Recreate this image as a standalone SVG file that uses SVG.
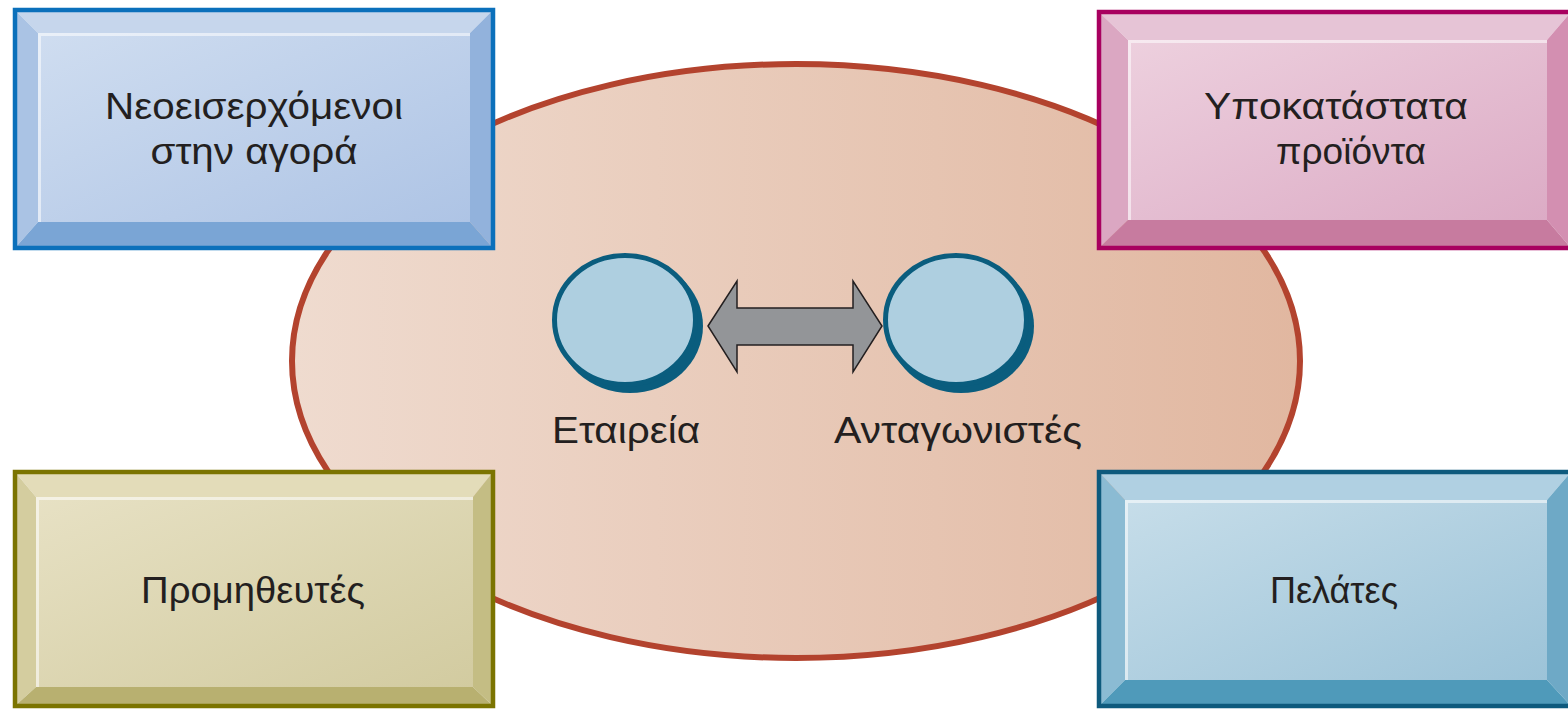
<svg xmlns="http://www.w3.org/2000/svg" width="1568" height="710" viewBox="0 0 1568 710">
  <style>
    .lbl { font-family: "Liberation Sans", Arial, sans-serif; font-size: 37px; fill: #231f20; text-anchor: middle; }
    .border { fill: none; stroke-width: 4.5; }
    .hl { fill: none; stroke: #ffffff; stroke-opacity: 0.55; stroke-width: 3; }
    .disc { stroke: #0a5d7e; stroke-width: 5; fill: #aecfe0; }
    .disc-shadow { fill: #0a5d7e; }
  </style>
  <defs>
    <linearGradient id="market" x1="0" y1="0" x2="1" y2="0">
      <stop offset="0" stop-color="#efdbcf"/>
      <stop offset="1" stop-color="#e1b7a0"/>
    </linearGradient>
    <linearGradient id="faceBlue" x1="0" y1="0" x2="1" y2="1">
      <stop offset="0" stop-color="#cfddf0"/>
      <stop offset="1" stop-color="#aec4e5"/>
    </linearGradient>
    <linearGradient id="facePink" x1="0" y1="0" x2="1" y2="1">
      <stop offset="0" stop-color="#edd0de"/>
      <stop offset="1" stop-color="#dcabc5"/>
    </linearGradient>
    <linearGradient id="faceOlive" x1="0" y1="0" x2="1" y2="1">
      <stop offset="0" stop-color="#e7e1c4"/>
      <stop offset="1" stop-color="#d2cba0"/>
    </linearGradient>
    <linearGradient id="faceTeal" x1="0" y1="0" x2="1" y2="1">
      <stop offset="0" stop-color="#c6dde9"/>
      <stop offset="1" stop-color="#9cc3d8"/>
    </linearGradient>
  </defs>

  <rect width="1568" height="710" fill="#ffffff"/>

  <!-- market arena -->
  <g id="market-arena">
    <ellipse cx="796" cy="361" rx="504" ry="297" fill="url(#market)" stroke="#b3432e" stroke-width="6"/>
  </g>

  <!-- new entrants -->
  <g id="new-entrants">
    <polygon points="15,10 493,10 470,33 38,33" fill="#c6d6ec"/>
    <polygon points="15,10 38,33 38,222 15,248" fill="#aac3e4"/>
    <polygon points="493,10 493,248 470,222 470,33" fill="#92b2dc"/>
    <polygon points="15,248 38,222 470,222 493,248" fill="#7aa5d5"/>
    <rect x="38" y="33" width="432" height="189" fill="url(#faceBlue)"/>
    <polyline class="hl" points="39.5,222 39.5,34.5 470,34.5"/>
    <rect class="border" x="15" y="10" width="478" height="238" stroke="#0b70bb"/>
    <text class="lbl" x="254" y="119" textLength="298" lengthAdjust="spacingAndGlyphs">Νεοεισερχόμενοι</text>
    <text class="lbl" x="254" y="164" textLength="207" lengthAdjust="spacingAndGlyphs">στην αγορά</text>
  </g>

  <!-- substitute products -->
  <g id="substitutes">
    <polygon points="1099,12 1571,12 1547,40 1128,40" fill="#e6c4d6"/>
    <polygon points="1099,12 1128,40 1128,220 1099,248" fill="#dba7c2"/>
    <polygon points="1571,12 1571,248 1547,220 1547,40" fill="#d38fb1"/>
    <polygon points="1099,248 1128,220 1547,220 1571,248" fill="#c77b9f"/>
    <rect x="1128" y="40" width="419" height="180" fill="url(#facePink)"/>
    <polyline class="hl" points="1129.5,220 1129.5,41.5 1547,41.5"/>
    <rect class="border" x="1099" y="12" width="472" height="236" stroke="#a8005f"/>
    <text class="lbl" x="1336" y="119" textLength="264" lengthAdjust="spacingAndGlyphs">Υποκατάστατα</text>
    <text class="lbl" x="1351" y="164">προϊόντα</text>
  </g>

  <!-- suppliers -->
  <g id="suppliers">
    <polygon points="15,472 493,472 473,497 36,497" fill="#e3dcb9"/>
    <polygon points="15,472 36,497 36,687 15,706" fill="#d4cd9f"/>
    <polygon points="493,472 493,706 473,687 473,497" fill="#c4bd84"/>
    <polygon points="15,706 36,687 473,687 493,706" fill="#b8b070"/>
    <rect x="36" y="497" width="437" height="190" fill="url(#faceOlive)"/>
    <polyline class="hl" points="37.5,687 37.5,498.5 473,498.5"/>
    <rect class="border" x="15" y="472" width="478" height="234" stroke="#7b7400"/>
    <text class="lbl" x="253" y="603" textLength="224" lengthAdjust="spacingAndGlyphs">Προμηθευτές</text>
  </g>

  <!-- customers -->
  <g id="customers">
    <polygon points="1099,472 1571,472 1547,500 1125,500" fill="#b0d0e2"/>
    <polygon points="1099,472 1125,500 1125,680 1099,706" fill="#8bbbd3"/>
    <polygon points="1571,472 1571,706 1547,680 1547,500" fill="#6ea9c6"/>
    <polygon points="1099,706 1125,680 1547,680 1571,706" fill="#4f9aba"/>
    <rect x="1125" y="500" width="422" height="180" fill="url(#faceTeal)"/>
    <polyline class="hl" points="1126.5,680 1126.5,501.5 1547,501.5"/>
    <rect class="border" x="1099" y="472" width="472" height="234" stroke="#0e5a7d"/>
    <text class="lbl" x="1334" y="603" textLength="128" lengthAdjust="spacingAndGlyphs">Πελάτες</text>
  </g>

  <!-- the firm -->
  <g id="firm">
    <ellipse class="disc-shadow" cx="630" cy="326" rx="73" ry="67"/>
    <ellipse class="disc" cx="625" cy="320" rx="70.5" ry="64.5"/>
    <text class="lbl" x="626" y="443" textLength="148" lengthAdjust="spacingAndGlyphs">Εταιρεία</text>
  </g>

  <!-- competitors -->
  <g id="competitors">
    <ellipse class="disc-shadow" cx="961" cy="326" rx="73" ry="67"/>
    <ellipse class="disc" cx="956" cy="320" rx="70.5" ry="64.5"/>
    <text class="lbl" x="958" y="443" textLength="248" lengthAdjust="spacingAndGlyphs">Ανταγωνιστές</text>
  </g>

  <!-- rivalry connector -->
  <g id="connectors">
    <polygon points="708,326 737,281 737,308 853,308 853,281 882,326 853,372 853,345 737,345 737,372" fill="#939598" stroke="#231f20" stroke-width="1.5" stroke-linejoin="miter"/>
  </g>
</svg>
